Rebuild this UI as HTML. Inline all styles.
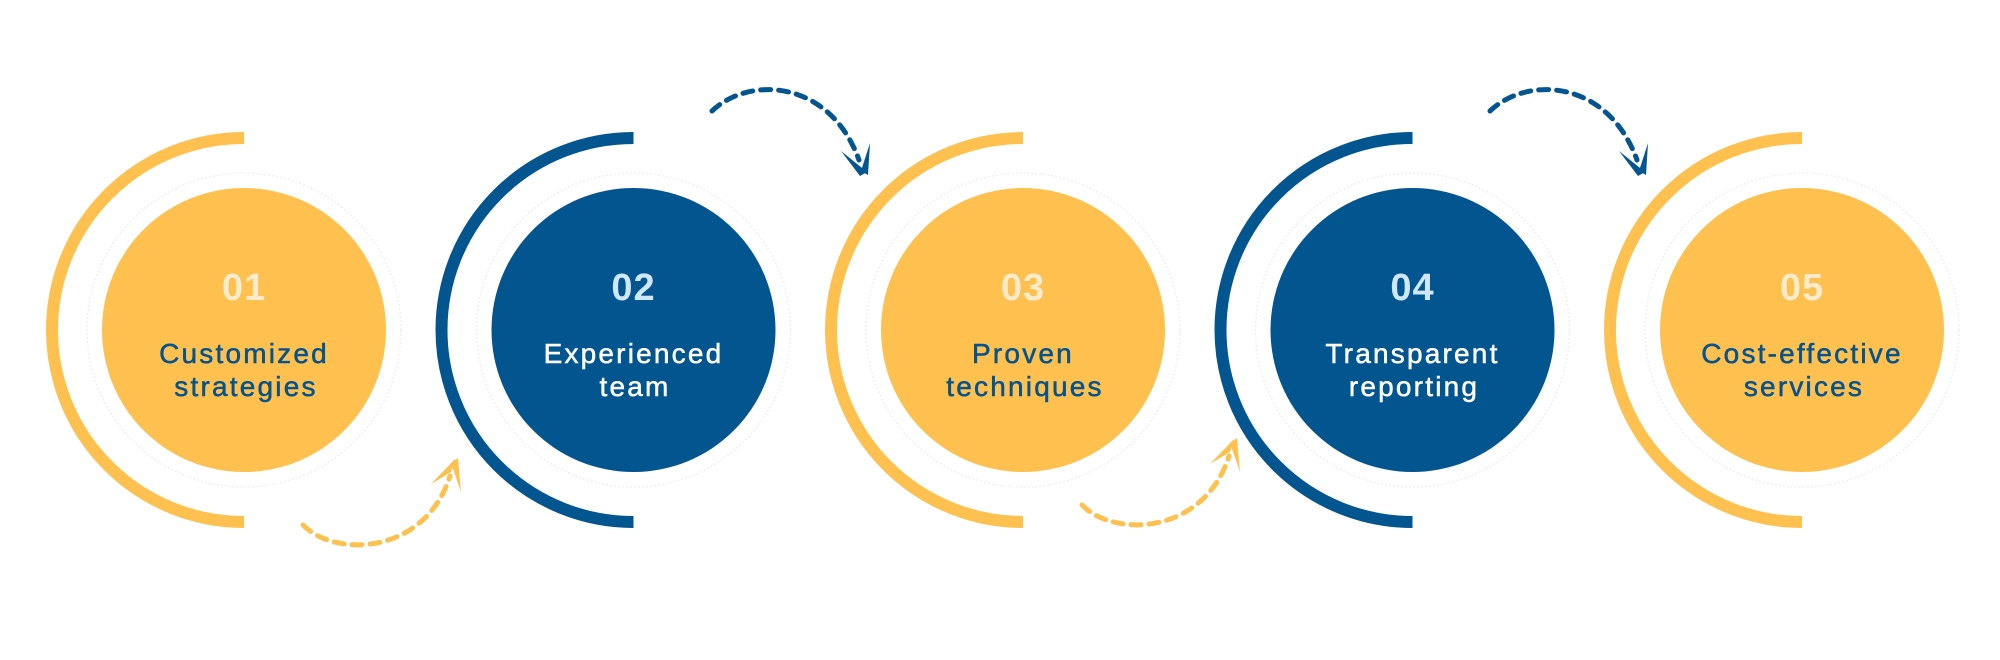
<!DOCTYPE html>
<html>
<head>
<meta charset="utf-8">
<style>
  html,body{margin:0;padding:0;background:#ffffff;}
  body{width:2000px;height:660px;overflow:hidden;}
  svg{display:block;}
  .num{font-family:"Liberation Sans",sans-serif;font-weight:700;font-size:38px;text-anchor:middle;letter-spacing:1px;}
  .lbl{font-family:"Liberation Sans",sans-serif;font-size:28px;text-anchor:middle;letter-spacing:2.2px;stroke-width:0.5px;}
</style>
</head>
<body>
<svg width="2000" height="660" viewBox="0 0 2000 660" xmlns="http://www.w3.org/2000/svg">
  <defs>
    <g id="ring">
      <circle cx="0" cy="0" r="157" fill="none" stroke="#efefef" stroke-width="1.5" stroke-dasharray="2 2"/>
    </g>
  </defs>

  <!-- Circle 1 -->
  <g>
    <path d="M244,138 A192,192 0 0,0 244,522" fill="none" stroke="#FEC14F" stroke-width="12"/>
    <use href="#ring" x="244" y="330"/>
    <circle cx="244" cy="330" r="142" fill="#FEC14F"/>
    <text class="num" x="244" y="300" fill="#FDEBCB">01</text>
    <text class="lbl" x="244" y="363" fill="#04528E" stroke="#04528E">Customized</text>
    <text class="lbl" x="246" y="396" fill="#04528E" stroke="#04528E">strategies</text>
  </g>

  <!-- Circle 2 -->
  <g>
    <path d="M633.5,138 A192,192 0 0,0 633.5,522" fill="none" stroke="#03558F" stroke-width="12"/>
    <use href="#ring" x="633.5" y="330"/>
    <circle cx="633.5" cy="330" r="142" fill="#03558F"/>
    <text class="num" x="633.5" y="300" fill="#CFE7FB">02</text>
    <text class="lbl" x="633.5" y="363" fill="#FFFFFF" stroke="#FFFFFF">Experienced</text>
    <text class="lbl" x="635" y="396" fill="#FFFFFF" stroke="#FFFFFF">team</text>
  </g>

  <!-- Circle 3 -->
  <g>
    <path d="M1023,138 A192,192 0 0,0 1023,522" fill="none" stroke="#FEC14F" stroke-width="12"/>
    <use href="#ring" x="1023" y="330"/>
    <circle cx="1023" cy="330" r="142" fill="#FEC14F"/>
    <text class="num" x="1023" y="300" fill="#FDEBCB">03</text>
    <text class="lbl" x="1023" y="363" fill="#04528E" stroke="#04528E">Proven</text>
    <text class="lbl" x="1025" y="396" fill="#04528E" stroke="#04528E">techniques</text>
  </g>

  <!-- Circle 4 -->
  <g>
    <path d="M1412.5,138 A192,192 0 0,0 1412.5,522" fill="none" stroke="#03558F" stroke-width="12"/>
    <use href="#ring" x="1412.5" y="330"/>
    <circle cx="1412.5" cy="330" r="142" fill="#03558F"/>
    <text class="num" x="1412.5" y="300" fill="#CFE7FB">04</text>
    <text class="lbl" x="1412.5" y="363" fill="#FFFFFF" stroke="#FFFFFF">Transparent</text>
    <text class="lbl" x="1414" y="396" fill="#FFFFFF" stroke="#FFFFFF">reporting</text>
  </g>

  <!-- Circle 5 -->
  <g>
    <path d="M1802,138 A192,192 0 0,0 1802,522" fill="none" stroke="#FEC14F" stroke-width="12"/>
    <use href="#ring" x="1802" y="330"/>
    <circle cx="1802" cy="330" r="142" fill="#FEC14F"/>
    <text class="num" x="1802" y="300" fill="#FDEBCB">05</text>
    <text class="lbl" x="1802" y="363" fill="#04528E" stroke="#04528E">Cost-effective</text>
    <text class="lbl" x="1804" y="396" fill="#04528E" stroke="#04528E">services</text>
  </g>

  <!-- Arrow 1 (yellow, below, 1 -> 2) -->
  <g id="arrowY">
    <path d="M303,525 C335,558 425,555 450,476" fill="none" stroke="#FEC14F" stroke-width="5" stroke-linecap="round" stroke-dasharray="10 8"/>
    <polygon points="431,484 455,459 451,472" fill="#FEC14F"/>
    <polygon points="451,463 458,458 461,492" fill="#FEC14F"/>
  </g>
  <!-- Arrow 3 (yellow, below, 3 -> 4) -->
  <use href="#arrowY" x="779" y="-20"/>

  <!-- Arrow 2 (blue, above, 2 -> 3) -->
  <g id="arrowB">
    <path d="M712,111 C750,75 830,80 859,160" fill="none" stroke="#03558F" stroke-width="5" stroke-linecap="round" stroke-dasharray="10 8"/>
    <polygon points="841,151 867,172 860,176" fill="#03558F"/>
    <polygon points="870,143 868,175 861,171" fill="#03558F"/>
  </g>
  <!-- Arrow 4 (blue, above, 4 -> 5) -->
  <use href="#arrowB" x="778" y="0"/>
</svg>
</body>
</html>
